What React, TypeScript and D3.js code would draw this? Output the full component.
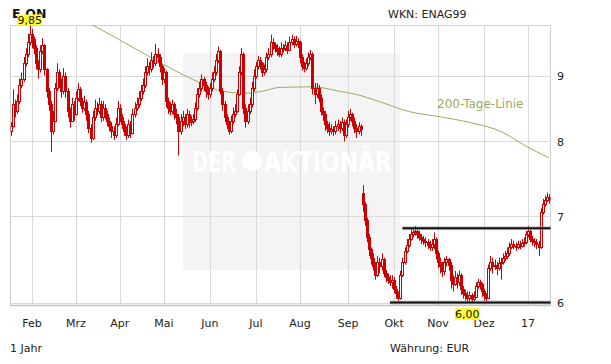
import React from "react";
import * as d3 from "d3";

// ---- data (E.ON, daily candles, Jan 2016 – Jan 2017) ----
const open = [
8.15,8.22,8.55,8.45,8.60,8.85,8.95,9.20,9.35,9.55,
9.70,9.60,9.45,9.20,9.10,9.40,9.50,9.10,8.75,8.55,
8.15,8.30,8.80,9.05,8.90,8.75,9.00,8.75,8.45,8.30,
8.55,8.40,8.65,8.78,8.60,8.50,8.58,8.40,8.20,8.05,
8.35,8.50,8.45,8.55,8.35,8.50,8.40,8.30,8.22,8.15,
8.10,8.25,8.50,8.35,8.25,8.15,8.10,8.25,8.12,8.40,
8.50,8.55,8.65,8.75,8.85,9.05,9.15,9.10,9.25,9.20,
9.35,9.30,9.15,8.95,9.05,8.60,8.50,8.45,8.55,8.40,
8.35,8.15,8.30,8.35,8.25,8.40,8.28,8.30,8.32,8.50,
8.70,8.80,8.95,8.85,8.75,8.70,8.80,8.95,9.05,9.25,
9.40,8.75,8.55,8.35,8.25,8.15,8.30,8.40,8.45,8.70,
9.05,9.35,8.50,8.30,8.45,8.55,8.80,9.00,9.15,9.25,
9.20,9.05,9.10,9.30,9.35,9.55,9.50,9.45,9.40,9.35,
9.45,9.45,9.50,9.42,9.55,9.60,9.52,9.58,9.55,9.30,
9.15,9.12,9.20,9.30,9.35,8.80,8.70,8.80,8.65,8.45,
8.40,8.25,8.20,8.15,8.18,8.15,8.22,8.25,8.20,8.28,
8.10,8.25,8.35,8.40,8.30,8.20,8.15,8.22,7.30,7.15,
6.95,6.75,6.60,6.50,6.40,6.30,6.45,6.40,6.48,6.32,
6.28,6.25,6.22,6.25,6.15,6.10,6.05,6.30,6.45,6.58,
6.65,6.72,6.78,6.80,6.82,6.78,6.75,6.72,6.70,6.68,
6.65,6.62,6.66,6.72,6.55,6.45,6.40,6.35,6.45,6.48,
6.42,6.25,6.20,6.28,6.22,6.30,6.15,6.10,6.08,6.05,
6.08,6.04,6.06,6.18,6.22,6.20,6.12,6.08,6.05,6.38,
6.45,6.40,6.42,6.38,6.44,6.45,6.50,6.52,6.55,6.62,
6.66,6.64,6.63,6.66,6.64,6.67,6.68,6.78,6.82,6.72,
6.70,6.68,6.66,6.62,7.05,7.15,7.20,7.25
];
const close = [
8.22,8.55,8.45,8.60,8.85,8.95,9.20,9.35,9.55,9.70,
9.60,9.45,9.20,9.10,9.40,9.50,9.10,8.75,8.55,8.15,
8.30,8.80,9.05,8.90,8.75,9.00,8.75,8.45,8.30,8.55,
8.40,8.65,8.78,8.60,8.50,8.58,8.40,8.20,8.05,8.35,
8.50,8.45,8.55,8.35,8.50,8.40,8.30,8.22,8.15,8.10,
8.25,8.50,8.35,8.25,8.15,8.10,8.25,8.12,8.40,8.50,
8.55,8.65,8.75,8.85,9.05,9.15,9.10,9.25,9.20,9.35,
9.30,9.15,8.95,9.05,8.60,8.50,8.45,8.55,8.40,8.35,
8.15,8.30,8.35,8.25,8.40,8.28,8.30,8.32,8.50,8.70,
8.80,8.95,8.85,8.75,8.70,8.80,8.95,9.05,9.25,9.40,
8.75,8.55,8.35,8.25,8.15,8.30,8.40,8.45,8.70,9.05,
9.35,8.50,8.30,8.45,8.55,8.80,9.00,9.15,9.25,9.20,
9.05,9.10,9.30,9.35,9.55,9.50,9.45,9.40,9.35,9.45,
9.45,9.50,9.42,9.55,9.60,9.52,9.58,9.55,9.30,9.15,
9.12,9.20,9.30,9.35,8.80,8.70,8.80,8.65,8.45,8.40,
8.25,8.20,8.15,8.18,8.15,8.22,8.25,8.20,8.28,8.10,
8.25,8.35,8.40,8.30,8.20,8.15,8.22,8.18,7.15,6.95,
6.75,6.60,6.50,6.40,6.30,6.45,6.40,6.48,6.32,6.28,
6.25,6.22,6.25,6.15,6.10,6.05,6.30,6.45,6.58,6.65,
6.72,6.78,6.80,6.82,6.78,6.75,6.72,6.70,6.68,6.65,
6.62,6.66,6.72,6.55,6.45,6.40,6.35,6.45,6.48,6.42,
6.25,6.20,6.28,6.22,6.30,6.15,6.10,6.08,6.05,6.08,
6.04,6.06,6.18,6.22,6.20,6.12,6.08,6.05,6.38,6.45,
6.40,6.42,6.38,6.44,6.45,6.50,6.52,6.55,6.62,6.66,
6.64,6.63,6.66,6.64,6.67,6.68,6.78,6.82,6.72,6.70,
6.68,6.66,6.62,7.05,7.15,7.20,7.25,7.22
];
const high = [
8.28,8.78,8.62,8.70,8.95,9.05,9.30,9.45,9.70,9.85,
9.78,9.65,9.50,9.25,9.50,9.62,9.52,9.12,8.80,8.60,
8.45,8.88,9.20,9.10,8.95,9.12,9.05,8.80,8.50,8.65,
8.60,8.75,8.88,8.82,8.65,8.68,8.62,8.45,8.25,8.45,
8.62,8.58,8.65,8.60,8.60,8.55,8.45,8.35,8.28,8.22,
8.35,8.60,8.55,8.40,8.30,8.22,8.32,8.30,8.48,8.58,
8.65,8.75,8.85,8.95,9.15,9.28,9.22,9.38,9.32,9.52,
9.45,9.35,9.18,9.12,9.08,8.65,8.58,8.62,8.58,8.48,
8.40,8.40,8.45,8.40,8.48,8.45,8.38,8.40,8.58,8.80,
8.90,9.02,8.98,8.90,8.82,8.88,9.05,9.15,9.35,9.48,
9.42,8.80,8.60,8.40,8.30,8.38,8.50,8.55,8.78,9.15,
9.45,9.38,8.55,8.55,8.65,8.90,9.10,9.22,9.32,9.30,
9.22,9.18,9.38,9.45,9.68,9.62,9.55,9.52,9.48,9.55,
9.52,9.58,9.55,9.65,9.68,9.65,9.66,9.62,9.58,9.35,
9.22,9.28,9.38,9.42,9.38,8.88,8.88,8.85,8.70,8.50,
8.45,8.30,8.28,8.25,8.22,8.30,8.32,8.30,8.35,8.32,
8.32,8.45,8.48,8.42,8.35,8.25,8.28,8.25,7.40,7.18,
6.98,6.78,6.62,6.55,6.45,6.52,6.50,6.55,6.50,6.36,
6.32,6.30,6.30,6.28,6.18,6.12,6.35,6.50,6.62,6.72,
6.78,6.84,6.85,6.88,6.85,6.82,6.78,6.76,6.74,6.72,
6.70,6.72,6.80,6.74,6.58,6.50,6.45,6.50,6.52,6.50,
6.45,6.30,6.35,6.32,6.35,6.32,6.18,6.14,6.12,6.12,
6.10,6.12,6.22,6.26,6.25,6.22,6.15,6.10,6.42,6.52,
6.50,6.48,6.45,6.50,6.50,6.55,6.58,6.62,6.68,6.72,
6.70,6.68,6.70,6.70,6.72,6.74,6.82,6.88,6.84,6.76,
6.73,6.72,6.70,7.10,7.22,7.26,7.30,7.28
];
const low = [
8.08,8.20,8.35,8.40,8.55,8.80,8.90,9.15,9.30,9.50,
9.45,9.35,9.10,8.95,9.05,9.35,9.00,8.65,8.45,7.85,
8.10,8.28,8.75,8.80,8.65,8.70,8.65,8.35,8.20,8.28,
8.30,8.38,8.60,8.52,8.42,8.45,8.30,8.12,7.98,8.02,
8.30,8.38,8.40,8.28,8.30,8.32,8.22,8.15,8.05,8.02,
8.05,8.22,8.28,8.18,8.08,8.02,8.05,8.05,8.10,8.35,
8.45,8.50,8.60,8.70,8.80,9.00,9.00,9.05,9.12,9.15,
9.20,9.05,8.85,8.88,8.50,8.40,8.38,8.40,8.32,8.25,
7.80,8.10,8.22,8.18,8.20,8.20,8.22,8.25,8.28,8.45,
8.65,8.75,8.75,8.65,8.62,8.65,8.75,8.90,9.00,9.20,
8.70,8.45,8.28,8.18,8.10,8.12,8.25,8.35,8.42,8.68,
9.00,8.40,8.20,8.25,8.40,8.50,8.75,8.95,9.10,9.10,
8.98,9.00,9.05,9.25,9.30,9.42,9.38,9.32,9.30,9.30,
9.38,9.40,9.35,9.40,9.50,9.45,9.48,9.45,9.20,9.08,
9.05,9.08,9.15,9.25,8.70,8.55,8.65,8.58,8.38,8.30,
8.15,8.12,8.08,8.10,8.08,8.10,8.15,8.12,8.15,8.00,
8.05,8.20,8.30,8.22,8.12,8.05,8.10,8.08,7.05,6.88,
6.68,6.52,6.42,6.35,6.25,6.28,6.32,6.35,6.28,6.22,
6.20,6.18,6.15,6.10,6.04,6.01,6.03,6.28,6.42,6.55,
6.62,6.70,6.74,6.76,6.72,6.70,6.66,6.65,6.62,6.60,
6.58,6.58,6.60,6.48,6.38,6.32,6.28,6.30,6.40,6.35,
6.15,6.12,6.18,6.15,6.18,6.08,6.04,6.02,6.00,6.01,
6.00,6.01,6.05,6.15,6.14,6.06,6.02,6.01,6.04,6.35,
6.32,6.36,6.30,6.35,6.25,6.42,6.46,6.48,6.52,6.60,
6.60,6.58,6.60,6.60,6.62,6.63,6.66,6.74,6.68,6.64,
6.62,6.60,6.52,6.60,7.02,7.12,7.18,7.16
];

// 200-day moving average (day index, value)
const maIndex = [38, 50, 66, 90, 101, 112, 120, 128, 144, 157, 165, 176, 190, 205, 220, 235, 245, 257];
const maValue = [9.87, 9.63, 9.31, 8.89, 8.75, 8.72, 8.75, 8.81, 8.82, 8.75, 8.70, 8.59, 8.44, 8.36, 8.27, 8.13, 7.95, 7.77];

// month ticks (trading-day index of first day of month)
const monthIndex = [10, 31, 52, 73, 95, 117, 138, 161, 183, 204, 226, 247];
const monthLabels = ["Feb", "Mrz", "Apr", "Mai", "Jun", "Jul", "Aug", "Sep", "Okt", "Nov", "Dez", "17"];
const priceTicks = [6, 7, 8, 9];

// horizontal support / resistance lines (level, start index)
const levels = [6.85, 6.0];
const levelStart = [187, 181];

const RED = "#cc0000";
const GREEN = "#9aab5c";
const GRID = "#dadada";
const FONT = "'DejaVu Sans', Verdana, sans-serif";

export default function App() {
  const N = close.length;
  const L = 10.5, R = 550.5, T = 25.5, B = 305.5;
  const x = d3.scaleLinear().domain([0, N - 1]).range([11, 549]);
  const y = d3.scaleLog().domain([6, 9.85]).range([302.5, 25]);

  const fmt = (v: number) => v.toFixed(2).replace(".", ",");
  const iMax = d3.maxIndex(high);
  const iMin = d3.minIndex(low);

  const maLine = d3
    .line<number>()
    .x((d, i) => x(maIndex[i]))
    .y((d) => y(d))
    .curve(d3.curveMonotoneX)(maValue) as string;

  return (
    <svg
      width={611}
      height={364}
      style={{ position: "absolute", left: 0, top: 0, background: "#fff" }}
      fontFamily={FONT}
    >
      <defs>
        <clipPath id="plot">
          <rect x={L} y={T - 0.5} width={R - L} height={B - T + 1} />
        </clipPath>
      </defs>
      <rect width={611} height={364} fill="#fff" />

      {/* watermark panel */}
      <rect x={183} y={53} width={217} height={217} fill="#f4f4f4" />

      {/* grid */}
      {monthIndex.map((m) => (
        <line key={"v" + m} x1={Math.round(x(m)) + 0.5} x2={Math.round(x(m)) + 0.5} y1={T} y2={B} stroke={GRID} />
      ))}
      {priceTicks.map((p) => (
        <line key={"h" + p} x1={L} x2={R} y1={Math.round(y(p)) + 0.5} y2={Math.round(y(p)) + 0.5} stroke={GRID} />
      ))}
      <rect x={L} y={T} width={R - L} height={B - T} fill="none" stroke="#d0d0d0" />
      <line x1={L} x2={R} y1={B} y2={B} stroke="#c4c4c4" strokeWidth={1.5} />

      {/* watermark text */}
      <g fill="#fff" fontWeight="bold" fontSize={29}>
        <text x={192} y={172} textLength={44} lengthAdjust="spacingAndGlyphs">DER</text>
        <circle cx={252} cy={161} r={10} fill="#fff" />
        <text x={264} y={172} textLength={128} lengthAdjust="spacingAndGlyphs">AKTIONÄR</text>
      </g>

      {/* 200-day line */}
      <g clipPath="url(#plot)">
        <path d={maLine} fill="none" stroke={GREEN} strokeWidth={1} />
      </g>
      <text x={437} y={108} fontSize={12} fill={GREEN}>200-Tage-Linie</text>

      {/* candles */}
      <g clipPath="url(#plot)">
        {close.map((c, i) => {
          const o = open[i];
          const px = Math.round(x(i));
          const hi = Math.max(high[i], o, c);
          const lo = Math.min(low[i], o, c);
          const yTop = Math.round(y(Math.max(o, c))) + 0.5;
          const yBot = Math.round(y(Math.min(o, c))) + 0.5;
          const up = c >= o;
          return (
            <g key={i}>
              <line x1={px + 0.5} x2={px + 0.5} y1={y(hi)} y2={y(lo)} stroke={RED} strokeWidth={1} />
              <rect
                x={px - 0.5}
                y={yTop}
                width={2}
                height={Math.max(1, yBot - yTop)}
                fill={up ? "#fff" : RED}
                stroke={RED}
                strokeWidth={1}
              />
            </g>
          );
        })}
      </g>

      {/* support / resistance */}
      {levels.map((lv, k) => (
        <g key={"lv" + k}>
          <line x1={x(levelStart[k])} x2={R} y1={y(lv)} y2={y(lv)} stroke="#999" strokeWidth={4} strokeOpacity={0.5} />
          <line x1={x(levelStart[k])} x2={R} y1={y(lv)} y2={y(lv)} stroke="#111" strokeWidth={2} />
        </g>
      ))}

      {/* y-axis labels */}
      {priceTicks.map((p) => (
        <text key={"yl" + p} x={557} y={y(p) + 4.5} fontSize={11} fill="#222">
          {p}
        </text>
      ))}

      {/* x-axis labels */}
      {monthIndex.map((m, k) => (
        <text key={"xl" + m} x={x(m)} y={327} fontSize={11} fill="#222" textAnchor="middle">
          {monthLabels[k]}
        </text>
      ))}

      {/* header / footer */}
      <text x={12} y={18} fontSize={12.5} fontWeight="bold" fill="#111">E.ON</text>
      <text x={388} y={18} fontSize={11} fill="#222">WKN: ENAG99</text>
      <text x={10} y={352} fontSize={11} fill="#222">1 Jahr</text>
      <text x={390} y={352} fontSize={11} fill="#222">Währung: EUR</text>

      {/* max / min markers */}
      <rect x={x(iMax) - 12.5} y={y(high[iMax]) - 10.5} width={25} height={11} fill="#ffff33" />
      <text x={x(iMax)} y={y(high[iMax]) - 1.5} fontSize={11} textAnchor="middle" fill="#111">
        {fmt(high[iMax])}
      </text>
      <rect x={x(iMin) - 12.5} y={y(low[iMin]) + 5.5} width={25} height={12} fill="#ffff33" />
      <text x={x(iMin)} y={y(low[iMin]) + 15.5} fontSize={11} textAnchor="middle" fill="#111">
        {fmt(low[iMin])}
      </text>
    </svg>
  );
}
